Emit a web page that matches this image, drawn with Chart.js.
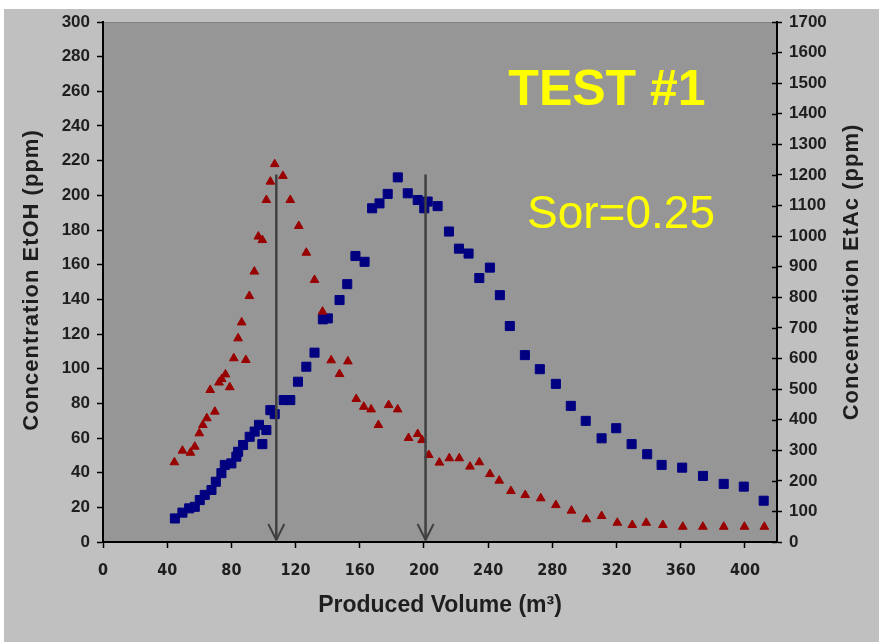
<!DOCTYPE html>
<html><head><meta charset="utf-8">
<script src="https://cdn.jsdelivr.net/npm/chart.js@4/dist/chart.umd.min.js"></script>
<style>html,body{margin:0;padding:0;background:#fff;overflow:hidden}#wrap{width:879px;height:642px}</style>
</head><body><div id="wrap"><canvas id="c" width="879" height="642"></canvas></div>
<script>
// EtOH (left axis, red triangles)
const etohX = [44.5,49.5,54.5,57.2,60,62.2,64.7,66.8,69.7,72.3,74,76.3,79,81.5,84.2,86.4,89,91.2,94.3,96.8,99.3,101.8,104.3,107,112.1,116.7,122,126.7,131.8,136.8,142.2,147.4,152.6,157.8,162.5,167.1,171.6,178,183.6,190.4,196.1,198.8,203,209.6,215.8,222,228.7,234.5,241.1,246.9,254.2,263.1,272.8,282.2,291.9,301.2,310.7,320.5,329.8,338.5,348.9,361.3,373.8,386.8,399.7,412.1];
const etohY = [46,52.7,51.5,55,62.7,67.5,71.4,87.7,75.2,92,94,96.7,89.3,106,117.5,126.7,105,141.9,156,176.2,174.2,197.3,207.9,218,211.2,197.3,182.3,166.9,151.2,132.9,104.8,96.9,104.2,82.5,78,76.5,67.5,79,76.5,60,62.3,58.8,50.2,45.8,48.3,48.3,43.5,46,39.2,35.4,29.4,27.1,25.2,21.3,18.1,13.1,15,11.1,9.8,11.1,9.8,8.8,8.8,8.8,8.8,8.8];
// EtAc (right axis, blue squares)
const etacX = [44.8,49.5,53.7,57.2,60.3,63.4,67.6,70.3,73.8,75.9,80,83.1,84.2,87.3,91.4,94.5,97.2,99.3,101.8,104.3,107,112.6,116.7,121.5,126.7,131.8,137,140.1,147.4,152.2,157.3,163,167.7,172.3,177.4,183.7,189.9,196.1,200.2,202.3,208.5,215.6,221.8,227.8,234.5,241.1,247.3,253.5,262.9,272.2,282.2,291.5,300.8,310.7,319.8,329.4,339.1,348.1,360.9,373.9,386.8,399.3,411.7];
const etacY = [77,96,110,115,137,154,170,197,225,252,257,279,295,317,344,361,383,320,366,431,418,464,464,524,573,619,728,731,791,843,935,916,1091,1107,1138,1192,1140,1118,1091,1113,1098,1015,959,943,863,897,807,706,611,565,517,445,396,339,372,320,287,252,243,216,190,181,135];

const xTicks = [0,40,80,120,160,200,240,280,320,360,400];
const leftTicks = [0,20,40,60,80,100,120,140,160,180,200,220,240,260,280,300];
const rightTicks = [0,100,200,300,400,500,600,700,800,900,1000,1100,1200,1300,1400,1500,1600,1700];
const arrowX = [108, 201];
const arrowTop = 212;

const titleText = 'TEST #1';
const noteText = 'Sor=0.25';
const xTitle = 'Produced Volume (m³)';
const yLeftTitle = 'Concentration EtOH (ppm)';
const yRightTitle = 'Concentration EtAc (ppm)';

const toPts = (xs, ys) => xs.map((x, i) => ({x, y: ys[i]}));
const tickFont = {family: "'Liberation Sans', Arial, sans-serif", size: 17, weight: 'bold'};
const xTickFont = {family: "'Liberation Sans Narrow', 'Arial Narrow', 'DejaVu Sans', sans-serif", size: 16, weight: 'bold condensed'};
const labelColor = '#1e1e1e';

const deco = {
  id: 'deco',
  beforeDraw(chart) {
    const ctx = chart.ctx, a = chart.chartArea;
    ctx.save();
    ctx.fillStyle = '#ffffff';
    ctx.fillRect(0, 0, chart.width, chart.height);
    ctx.fillStyle = '#c0c0c0';
    ctx.fillRect(4, 9, chart.width - 4, chart.height - 9);
    ctx.fillStyle = '#969696';
    ctx.fillRect(a.left, a.top, a.right - a.left, a.bottom - a.top);
    ctx.strokeStyle = '#808080';
    ctx.lineWidth = 1;
    ctx.beginPath(); ctx.moveTo(a.left, a.top + 0.5); ctx.lineTo(a.right, a.top + 0.5); ctx.stroke();
    ctx.restore();
  },
  afterDraw(chart) {
    const ctx = chart.ctx, a = chart.chartArea;
    const xs = chart.scales.x, yl = chart.scales.y, yr = chart.scales.y1;
    ctx.save();
    // inner half of right-axis ticks
    ctx.strokeStyle = '#000'; ctx.lineWidth = 1.5;
    rightTicks.forEach(v => {
      const py = Math.round(yr.getPixelForValue(v)) + 0.5;
      ctx.beginPath(); ctx.moveTo(a.right - 5, py); ctx.lineTo(a.right, py); ctx.stroke();
    });
    // arrows
    ctx.strokeStyle = '#404040'; ctx.lineWidth = 2.5; ctx.lineCap = 'butt';
    arrowX.forEach(v => {
      const px = xs.getPixelForValue(v);
      const top = yl.getPixelForValue(arrowTop);
      const tip = yl.getPixelForValue(0) - 2;
      ctx.beginPath(); ctx.moveTo(px, top); ctx.lineTo(px, tip); ctx.stroke();
      ctx.lineWidth = 2;
      ctx.beginPath(); ctx.moveTo(px - 8, tip - 16); ctx.lineTo(px, tip); ctx.lineTo(px + 8, tip - 16); ctx.stroke();
      ctx.lineWidth = 2.5;
    });
    // in-plot texts
    ctx.fillStyle = '#ffff00';
    ctx.textAlign = 'center'; ctx.textBaseline = 'middle';
    ctx.font = "bold 50px 'Liberation Sans', Arial, sans-serif";
    ctx.fillText(titleText, 607, 91);
    ctx.font = "46px 'Liberation Sans', Arial, sans-serif";
    ctx.fillText(noteText, 621, 215);
    // axis titles
    ctx.fillStyle = labelColor;
    ctx.font = "bold 23px 'Liberation Sans', Arial, sans-serif";
    ctx.fillText(xTitle, (a.left + a.right) / 2, 606);
    ctx.font = "bold 22px 'Liberation Sans', Arial, sans-serif";
    const cy = (a.top + a.bottom) / 2 - 2;
    try { ctx.letterSpacing = '1px'; } catch (e) {}
    ctx.save(); ctx.translate(32, cy); ctx.rotate(-Math.PI / 2);
    ctx.fillText(yLeftTitle, 0, 0); ctx.restore();
    ctx.save(); ctx.translate(852, cy - 8); ctx.rotate(-Math.PI / 2);
    ctx.fillText(yRightTitle, 0, 0); ctx.restore();
    ctx.restore();
  }
};

const grid = {drawOnChartArea: false, drawTicks: true, tickLength: 6, tickColor: '#000', tickWidth: 1.5, color: '#000'};
const border = {display: true, color: '#000', width: 2};

new Chart(document.getElementById('c'), {
  type: 'scatter',
  data: {
    datasets: [
      {label: 'EtOH', data: toPts(etohX, etohY), yAxisID: 'y', pointStyle: 'triangle', pointRadius: 5, borderWidth: 1,
       backgroundColor: '#990000', borderColor: '#990000', pointHoverRadius: 5},
      {label: 'EtAc', data: toPts(etacX, etacY), yAxisID: 'y1', pointStyle: 'rect', pointRadius: 6.4, borderWidth: 1,
       backgroundColor: '#000080', borderColor: '#000080', pointHoverRadius: 6.4}
    ]
  },
  options: {
    responsive: false, animation: false, devicePixelRatio: 1,
    layout: {padding: {top: 22, left: 0, right: 0, bottom: 0}},
    plugins: {legend: {display: false}, tooltip: {enabled: false}},
    events: [],
    scales: {
      x: {type: 'linear', position: 'bottom', min: 0, max: 420,
          afterBuildTicks: s => { s.ticks = xTicks.map(v => ({value: v})); },
          afterFit: s => { s.height = 100; },
          ticks: {font: xTickFont, color: labelColor, padding: 13, maxRotation: 0, autoSkip: false, callback: v => String(v)},
          grid: grid, border: border},
      y: {type: 'linear', position: 'left', min: 0, max: 300,
          afterBuildTicks: s => { s.ticks = leftTicks.map(v => ({value: v})); },
          afterFit: s => { s.width = 103; },
          ticks: {font: tickFont, color: labelColor, padding: 7, autoSkip: false, callback: v => String(v)},
          grid: grid, border: border},
      y1: {type: 'linear', position: 'right', min: 0, max: 1700,
          afterBuildTicks: s => { s.ticks = rightTicks.map(v => ({value: v})); },
          afterFit: s => { s.width = 102; },
          ticks: {font: tickFont, color: labelColor, padding: 7, autoSkip: false, callback: v => String(v)},
          grid: Object.assign({}, grid, {tickLength: 5}), border: border}
    }
  },
  plugins: [deco]
});
</script></body></html>
